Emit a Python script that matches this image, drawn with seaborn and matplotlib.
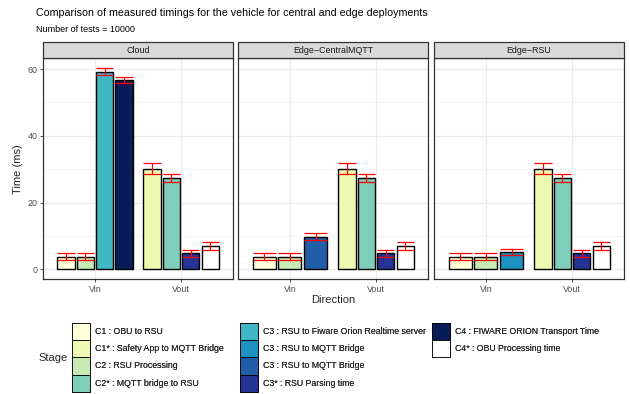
import numpy as np
import pandas as pd
import matplotlib
matplotlib.use("Agg")
import matplotlib.pyplot as plt
from matplotlib.patches import Rectangle, Patch
import seaborn as sns

# Stage legend entries and fill colours (YlGnBu ramp + white)
stage_labels = [
    "C1 : OBU to RSU",
    "C1* : Safety App to MQTT Bridge",
    "C2 : RSU Processing",
    "C2* : MQTT bridge to RSU",
    "C3 : RSU to Fiware Orion Realtime server",
    "C3 : RSU to MQTT Bridge",
    "C3 : RSU to MQTT Bridge",
    "C3* : RSU Parsing time",
    "C4 : FIWARE ORION Transport Time",
    "C4* : OBU Processing time",
]
stage_colors = ["#FFFFD9", "#EDF8B1", "#C7E9B4", "#7FCDBB", "#41B6C4",
                "#1D91C0", "#225EA8", "#253494", "#081D58", "#FFFFFF"]

panels = ["Cloud", "Edge\u2212CentralMQTT", "Edge\u2212RSU"]
directions = ["Vin", "Vout"]

# Mean timings (ms) and standard deviations per deployment / direction
cloud_vin_stage = [0, 2, 4, 8]
cloud_vin_mean = [3.8, 3.8, 59.2, 56.7]
cloud_vin_sd = [1.0, 1.1, 1.0, 1.0]

central_vin_stage = [0, 2, 6]
central_vin_mean = [3.8, 3.8, 9.75]
central_vin_sd = [1.0, 1.1, 1.05]

rsu_vin_stage = [0, 2, 5]
rsu_vin_mean = [3.8, 3.8, 5.2]
rsu_vin_sd = [1.0, 1.1, 1.0]

vout_stage = [1, 3, 7, 9]
vout_mean = [30.1, 27.3, 4.8, 7.0]
vout_sd = [1.65, 1.25, 1.05, 1.25]

rows = []
for panel, (vs, vm, vsd) in zip(panels, [
        (cloud_vin_stage, cloud_vin_mean, cloud_vin_sd),
        (central_vin_stage, central_vin_mean, central_vin_sd),
        (rsu_vin_stage, rsu_vin_mean, rsu_vin_sd)]):
    for d, (ss, ms, sds) in zip(directions, [(vs, vm, vsd),
                                             (vout_stage, vout_mean, vout_sd)]):
        n = len(ss)
        for k, (s, m, sd) in enumerate(zip(ss, ms, sds)):
            rows.append(dict(Deployment=panel, Direction=d, Stage=s,
                             Time=m, SD=sd, n=n, k=k))
df = pd.DataFrame(rows)

# ggplot-style dodge: group width 0.9 shared by bars, each bar 0.8/n wide
DODGE = 0.9
BAR = 0.8
df["dir_idx"] = df["Direction"].map({d: i for i, d in enumerate(directions)})
df["pos"] = df["dir_idx"] + (df["k"] - (df["n"] - 1) / 2) * DODGE / df["n"]
df["half"] = BAR / df["n"] / 2

sns.set_theme(style="white")
plt.rcParams["font.family"] = ["Liberation Sans", "DejaVu Sans"]

W, H = 630, 394
fig = plt.figure(figsize=(W / 100, H / 100), dpi=100)

def fx(px):
    return px / W

def fy(px):
    return 1 - px / H

top_px, bot_px = 58.3, 279.3
lefts = [43.3, 238.3, 434.3]
pw = 189.5

ymax = (df["Time"] + df["SD"]).max()
ylim = (-0.05 * ymax, 1.05 * ymax)
palette = {i: c for i, c in enumerate(stage_colors)}

base = 8.0
small = 6.4
axes = []
for i, panel in enumerate(panels):
    ax = fig.add_axes([fx(lefts[i]), fy(bot_px), fx(pw), (bot_px - top_px) / H])
    axes.append(ax)
    sub = df[df["Deployment"] == panel]
    ax.set_facecolor("white")
    for d in directions:
        g = sub[sub["Direction"] == d]
        sns.barplot(data=g, x="pos", y="Time", hue="Stage", palette=palette,
                    native_scale=True, dodge=False, width=BAR / DODGE,
                    saturation=1, errorbar=None, legend=False,
                    edgecolor="black", linewidth=1.0, ax=ax, zorder=3)
    # error bars with caps as wide as the bars
    ax.vlines(sub["pos"], sub["Time"] - sub["SD"], sub["Time"] + sub["SD"],
              color="red", linewidth=0.9, zorder=4)
    for y in (sub["Time"] - sub["SD"], sub["Time"] + sub["SD"]):
        ax.hlines(y, sub["pos"] - sub["half"], sub["pos"] + sub["half"],
                  color="red", linewidth=0.9, zorder=4)

    ax.set_xlim(-0.6, 1.6)
    ax.set_ylim(*ylim)
    ax.set_xticks(range(len(directions)))
    ax.set_xticklabels(directions)
    ax.set_yticks([0, 20, 40, 60])
    ax.set_yticks([10, 30, 50], minor=True)
    ax.grid(True, which="major", color="#EBEBEB", linewidth=0.9, zorder=0)
    ax.grid(True, which="minor", axis="y", color="#F2F2F2", linewidth=0.5, zorder=0)
    ax.set_axisbelow(True)
    ax.set_xlabel("")
    ax.set_ylabel("")
    for sp in ax.spines.values():
        sp.set_color("#333333")
        sp.set_linewidth(0.9)
    ax.tick_params(axis="x", which="major", length=2.5, width=0.6,
                   color="#333333", labelsize=small, labelcolor="#4D4D4D",
                   pad=1.5, bottom=True)
    if i == 0:
        ax.tick_params(axis="y", which="major", length=2.5, width=0.6,
                       color="#333333", labelsize=small,
                       labelcolor="#4D4D4D", pad=1.5, left=True)
    else:
        ax.tick_params(axis="y", which="both", left=False, labelleft=False)
    ax.tick_params(axis="y", which="minor", left=False)

    # facet strip
    sh = 16.6 / (bot_px - top_px)
    ax.add_patch(Rectangle((0, 1), 1, sh, transform=ax.transAxes,
                           facecolor="#D9D9D9", edgecolor="#333333",
                           linewidth=0.9, clip_on=False, zorder=5))
    ax.text(0.5, 1 + sh / 2, panel, transform=ax.transAxes, ha="center",
            va="center", fontsize=small, color="#1A1A1A", zorder=6)

fig.text(fx(36), fy(13), "Comparison of measured timings for the vehicle for central and edge deployments",
         ha="left", va="center", fontsize=7.65, color="black")
fig.text(fx(36), fy(30), "Number of tests = 10000", ha="left", va="center",
         fontsize=6.5, color="black")
fig.text(fx(18), fy((top_px + bot_px) / 2), "Time (ms)", rotation=90,
         ha="center", va="center", fontsize=base)
fig.text(fx(333), fy(300), "Direction", ha="center", va="center", fontsize=base)

# legend: three columns of keys, title on the left
leg_fs = 6.3
handles = [Patch(facecolor=c, edgecolor="black", linewidth=0.6) for c in stage_colors]
em_pt = leg_fs
key_w_pt = 17.6 * 0.72
key_h_pt = 17.3 * 0.72
# matplotlib trims the handle box by a descent term; invert that here
hh = (key_h_pt / em_pt - 0.245) / 0.65
cols = [(0, 4, 72.3), (4, 8, 240), (8, 10, 432)]
for a, b, x0 in cols:
    leg = fig.legend(handles[a:b], stage_labels[a:b], loc="upper left",
                     bbox_to_anchor=(fx(x0), fy(322.6)), frameon=False,
                     borderpad=0, borderaxespad=0, labelspacing=0,
                     handlelength=key_w_pt / em_pt, handleheight=hh,
                     handletextpad=5 * 0.72 / em_pt, fontsize=leg_fs)
    fig.add_artist(leg)
fig.text(fx(38), fy(358), "Stage", ha="left", va="center", fontsize=base)

fig.savefig("out.png", dpi=100, facecolor="white")
